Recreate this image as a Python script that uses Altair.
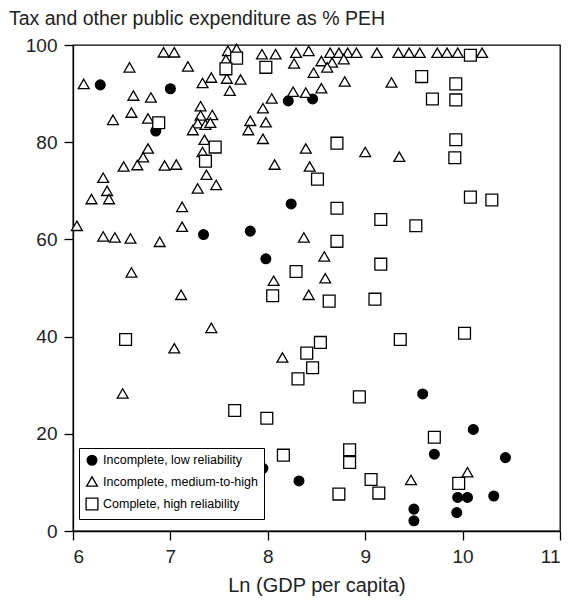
import altair as alt
import pandas as pd

cats = ["Incomplete, low reliability", "Incomplete, medium-to-high", "Complete, high reliability"]

low_x = [6.28, 7.00, 6.85, 8.21, 8.46, 8.24, 7.34, 7.82, 7.98, 9.59, 10.11, 9.71, 10.44, 7.95, 8.32,
         9.50, 9.50, 9.95, 10.05, 9.94, 10.32]
low_y = [91.8, 91.0, 82.3, 88.5, 88.9, 67.3, 61.0, 61.7, 56.0, 28.2, 20.9, 15.8, 15.1, 12.9, 10.3,
         4.5, 2.1, 6.9, 6.9, 3.8, 7.2]

med_x = [6.93, 7.04, 7.59, 7.68, 7.94, 8.08, 8.29, 8.42, 8.64, 8.73, 8.82, 8.91, 9.12, 9.34, 9.45,
         9.56, 9.74, 9.84, 9.95, 10.20,
         7.57, 6.58, 7.18, 7.42, 7.33, 6.62, 6.80, 7.31, 6.41, 6.60, 6.77, 7.31, 7.43, 7.28, 7.36,
         7.41, 7.23, 7.35, 7.33, 6.77, 6.72, 6.66, 6.52, 6.94, 7.06, 6.11,
         8.27, 8.55, 8.66, 8.78, 8.61, 8.47, 8.79, 7.58, 7.72, 7.61, 8.04, 8.26, 8.39, 8.55, 7.95,
         7.82, 7.98, 7.80, 7.95, 8.39, 9.00, 8.07, 8.43,
         9.27, 9.35,
         6.31, 6.35, 6.19, 6.37, 7.37, 7.28, 7.47, 7.12, 6.04, 7.12, 6.31, 6.43, 6.59, 6.89, 6.60, 7.11,
         8.37, 8.58, 8.59, 8.06, 8.42,
         7.04, 7.42, 6.51, 8.15,
         9.47, 10.05]
med_y = [98.5, 98.5, 98.8, 99.2, 98.1, 98.1, 98.4, 98.8, 98.4, 98.4, 98.4, 98.4, 98.4, 98.4, 98.4,
         98.4, 98.4, 98.4, 98.4, 98.4,
         97.0, 95.4, 95.6, 93.3, 92.2, 89.6, 89.2, 87.4, 84.6, 86.1, 84.9, 85.5, 85.6, 83.9, 83.6,
         84.0, 82.5, 80.5, 78.0, 78.7, 76.9, 75.3, 75.0, 75.2, 75.4, 92.0,
         96.2, 96.7, 96.4, 97.1, 95.4, 94.3, 92.5, 93.1, 92.9, 90.6, 89.0, 90.4, 90.2, 91.1, 87.0,
         84.4, 84.1, 82.5, 80.7, 78.7, 78.0, 75.4, 75.0,
         92.3, 77.0,
         72.7, 70.0, 68.3, 68.3, 73.3, 70.5, 71.2, 66.7, 62.8, 62.6, 60.6, 60.4, 60.2, 59.5, 53.2, 48.6,
         60.4, 56.5, 52.0, 51.5, 48.6,
         37.6, 41.8, 28.3, 35.7,
         10.5, 12.1]

com_x = [6.88, 7.46, 7.36, 7.68, 7.57, 7.98, 10.08, 9.58, 9.93, 9.69, 9.93, 9.93, 9.92, 8.71, 8.51,
         8.71, 9.16, 8.71, 8.29, 8.05, 8.63, 9.16, 9.10, 10.08, 10.30, 9.52, 6.54, 8.54, 8.40, 8.46,
         8.31, 8.94, 7.66, 7.99, 8.16, 8.84, 8.84, 9.36, 10.02, 9.71, 8.73, 9.06, 9.14, 9.96]
com_y = [84.0, 79.0, 76.1, 97.3, 95.1, 95.4, 97.9, 93.5, 92.0, 88.9, 88.7, 80.5, 76.8, 79.8, 72.4,
         66.4, 64.1, 59.6, 53.4, 48.4, 47.3, 54.9, 47.7, 68.7, 68.1, 62.8, 39.4, 38.8, 36.6, 33.6,
         31.3, 27.6, 24.8, 23.2, 15.6, 16.7, 14.1, 39.4, 40.7, 19.3, 7.6, 10.6, 7.8, 9.8]

rows = []
for c, xs, ys in [(cats[0], low_x, low_y), (cats[1], med_x, med_y), (cats[2], com_x, com_y)]:
    for a, b in zip(xs, ys):
        rows.append({"gdp": a, "share": b, "cat": c})
df = pd.DataFrame(rows)

FONT = "Liberation Sans"
leg = alt.Legend(title=None, orient="none", legendX=6, legendY=403, direction="vertical",
                 strokeColor="black", fillColor="white", padding=6, labelFont=FONT,
                 labelFontSize=12.5, labelColor="black", rowPadding=6, labelOffset=4,
                 symbolStrokeColor="black", symbolStrokeWidth=1.3, symbolOpacity=1)

chart = alt.Chart(df).mark_point(filled=False, strokeWidth=1.3, opacity=1, fillOpacity=1).encode(
    x=alt.X("gdp:Q", scale=alt.Scale(domain=[6, 11], nice=False, zero=False),
            axis=alt.Axis(values=[6, 7, 8, 9, 10, 11], title="Ln (GDP per capita)", grid=False, format="d")),
    y=alt.Y("share:Q", scale=alt.Scale(domain=[0, 100], nice=False),
            axis=alt.Axis(values=[0, 20, 40, 60, 80, 100], title=None, grid=False)),
    shape=alt.Shape("cat:N", scale=alt.Scale(domain=cats, range=["circle", "triangle-up", "square"]), legend=leg),
    fill=alt.Fill("cat:N", scale=alt.Scale(domain=cats, range=["black", "white", "white"]), legend=leg),
    stroke=alt.Stroke("cat:N", scale=alt.Scale(domain=cats, range=["black", "black", "black"]), legend=leg),
    size=alt.Size("cat:N", scale=alt.Scale(domain=cats, range=[95, 140, 110]), legend=leg),
).properties(
    width=487, height=486,
    autosize=alt.AutoSizeParams(type="none"),
    padding={"left": 65, "top": 37, "right": 15, "bottom": 66},
    title=alt.TitleParams("Tax and other public expenditure as % PEH", anchor="start", frame="group",
                          dx=-64, offset=7, font=FONT, fontSize=19.5, fontWeight="normal", color="#222"),
).configure_view(
    stroke="black", strokeWidth=1.3
).configure_axis(
    domainColor="black", domainWidth=1.3, tickColor="black", tickWidth=1.3, tickSize=9,
    labelFont=FONT, labelFontSize=19, labelColor="#222", labelPadding=7,
    titleFont=FONT, titleFontSize=20, titleFontWeight="normal", titleColor="#222", titlePadding=9
)

chart.save("out.html", embed_options={"renderer": "svg", "actions": False})
